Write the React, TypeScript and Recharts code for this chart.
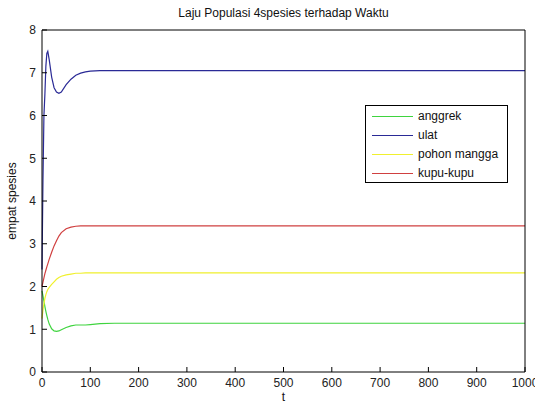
import { Line, LineChart, XAxis, YAxis } from 'recharts';

const tValues = [0, 2, 4, 6, 8, 10, 12, 15, 20, 25, 30, 35, 40, 50, 60, 70, 80, 90, 100, 120, 150, 200, 300, 400, 500, 600, 700, 800, 900, 1000];
const anggrek = [1.9, 1.78, 1.66, 1.53, 1.42, 1.32, 1.23, 1.12, 1.01, 0.96, 0.95, 0.96, 0.99, 1.04, 1.08, 1.1, 1.1, 1.1, 1.11, 1.13, 1.14, 1.14, 1.14, 1.14, 1.14, 1.14, 1.14, 1.14, 1.14, 1.14];
const ulat = [2.4, 4.5, 6.0, 6.5, 7.15, 7.45, 7.5, 7.3, 6.9, 6.65, 6.55, 6.52, 6.55, 6.72, 6.85, 6.94, 6.99, 7.02, 7.04, 7.05, 7.05, 7.05, 7.05, 7.05, 7.05, 7.05, 7.05, 7.05, 7.05, 7.05];
const pohonMangga = [1.25, 1.45, 1.6, 1.72, 1.81, 1.88, 1.93, 1.98, 2.05, 2.11, 2.17, 2.21, 2.24, 2.27, 2.29, 2.31, 2.31, 2.32, 2.32, 2.32, 2.32, 2.32, 2.32, 2.32, 2.32, 2.32, 2.32, 2.32, 2.32, 2.32];
const kupuKupu = [2.0, 2.1, 2.2, 2.3, 2.38, 2.46, 2.53, 2.64, 2.8, 2.95, 3.07, 3.18, 3.26, 3.35, 3.39, 3.41, 3.42, 3.42, 3.42, 3.42, 3.42, 3.42, 3.42, 3.42, 3.42, 3.42, 3.42, 3.42, 3.42, 3.42];

const xTicks = [0, 100, 200, 300, 400, 500, 600, 700, 800, 900, 1000];
const yTicks = [0, 1, 2, 3, 4, 5, 6, 7, 8];

const series = [
  { key: 'anggrek', name: 'anggrek', color: '#3fd43f' },
  { key: 'ulat', name: 'ulat', color: '#2a2a96' },
  { key: 'pohonMangga', name: 'pohon mangga', color: '#f0f02e' },
  { key: 'kupuKupu', name: 'kupu-kupu', color: '#d04040' }
];

const data = tValues.map((t, i) => ({
  t,
  anggrek: anggrek[i],
  ulat: ulat[i],
  pohonMangga: pohonMangga[i],
  kupuKupu: kupuKupu[i]
}));

const FONT = '"Liberation Sans", Arial, sans-serif';
const tickStyle = { fontSize: 12, fill: '#222', fontFamily: FONT };

// legend drawn as an overlay so it does not take space from the plot
const LegendBox = () => (
  <div
    style={{
      position: 'absolute',
      left: 365,
      top: 105,
      border: '1px solid #000',
      background: '#fff',
      width: 143,
      height: 78,
      boxSizing: 'border-box',
      padding: '1px 0 0 6px',
      fontFamily: FONT,
      fontSize: 12,
      lineHeight: '19px',
      color: '#111'
    }}
  >
    {series.map((s) => (
      <div key={s.key} style={{ height: 19, whiteSpace: 'nowrap', display: 'flex', alignItems: 'center' }}>
        <svg width={41} height={3} style={{ marginRight: 5 }}>
          <line x1={0} x2={41} y1={1.5} y2={1.5} stroke={s.color} strokeWidth={1.2} />
        </svg>
        <span>{s.name}</span>
      </div>
    ))}
  </div>
);

export default function App() {
  return (
    <div style={{ position: 'absolute', left: 0, top: 0, width: 535, height: 406, background: '#fff', overflow: 'hidden' }}>
      <div
        style={{
          position: 'absolute',
          left: 42,
          width: 483,
          top: 6,
          textAlign: 'center',
          fontFamily: FONT,
          fontSize: 12,
          color: '#111'
        }}
      >
        Laju Populasi 4spesies terhadap Waktu
      </div>
      <div
        style={{
          position: 'absolute',
          left: 12,
          top: 201,
          transform: 'translate(-50%, -50%) rotate(-90deg)',
          whiteSpace: 'nowrap',
          fontFamily: FONT,
          fontSize: 12,
          color: '#111'
        }}
      >
        empat spesies
      </div>
      <div
        style={{
          position: 'absolute',
          left: 42,
          width: 483,
          top: 390,
          textAlign: 'center',
          fontFamily: FONT,
          fontSize: 12,
          color: '#111'
        }}
      >
        t
      </div>
      <LineChart
        width={535}
        height={406}
        data={data}
        margin={{ top: 29, right: 9, bottom: 0, left: 0 }}
        style={{ position: 'absolute', left: 0, top: 0 }}
      >
        <XAxis
          dataKey="t"
          type="number"
          domain={[0, 1000]}
          ticks={xTicks}
          height={34}
          tickSize={-5}
          tickMargin={11}
          tick={tickStyle}
          stroke="#000"
          interval={0}
        />
        <XAxis
          xAxisId="top"
          orientation="top"
          dataKey="t"
          type="number"
          domain={[0, 1000]}
          ticks={xTicks}
          height={1}
          tickSize={-5}
          tick={false}
          stroke="#000"
        />
        <YAxis
          type="number"
          domain={[0, 8]}
          ticks={yTicks}
          width={42}
          tickSize={-5}
          tickMargin={11}
          tick={tickStyle}
          stroke="#000"
          interval={0}
        />
        <YAxis
          yAxisId="right"
          orientation="right"
          type="number"
          domain={[0, 8]}
          ticks={yTicks}
          width={1}
          tickSize={-5}
          tick={false}
          stroke="#000"
        />
        {series.map((s) => (
          <Line
            key={s.key}
            dataKey={s.key}
            name={s.name}
            type="linear"
            stroke={s.color}
            strokeWidth={1.2}
            dot={false}
            isAnimationActive={false}
          />
        ))}
      </LineChart>
      <LegendBox />
    </div>
  );
}
